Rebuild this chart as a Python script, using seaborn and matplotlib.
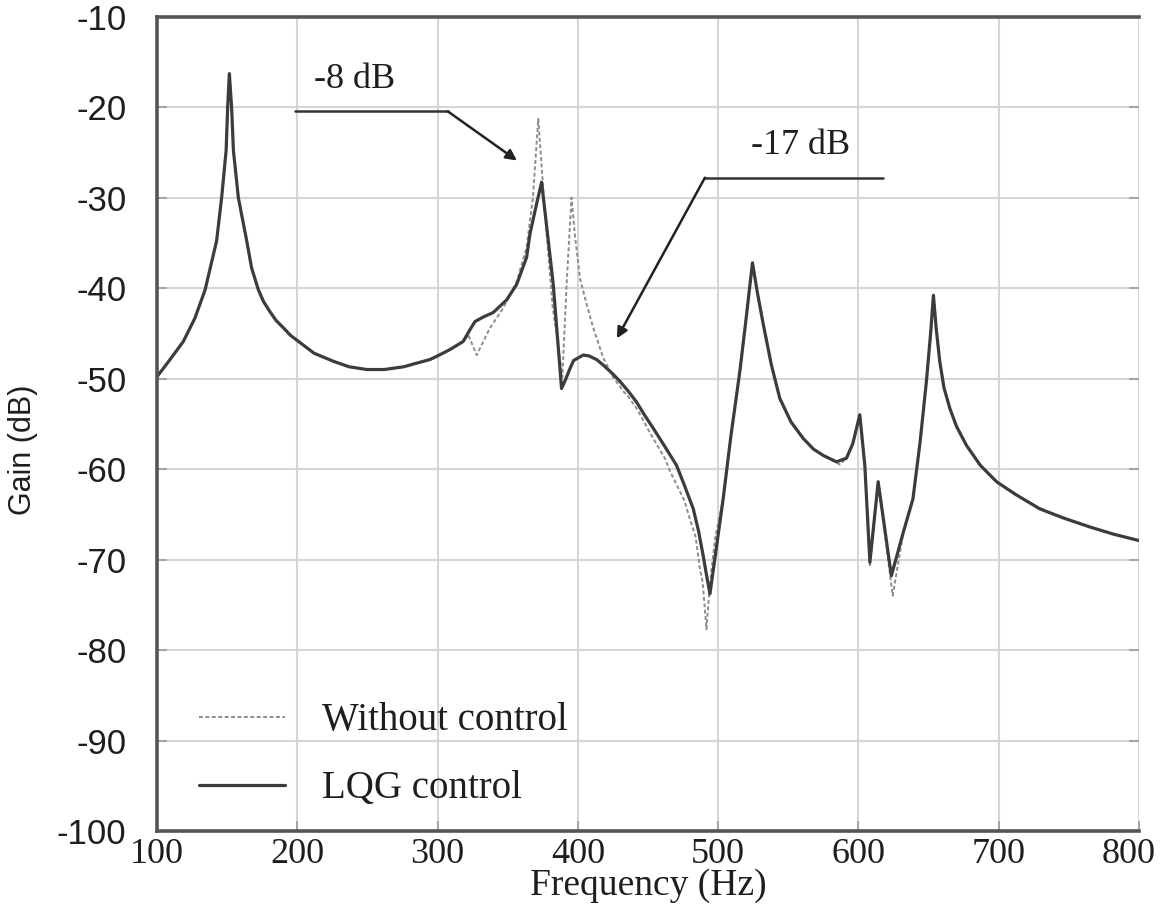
import matplotlib
matplotlib.use("Agg")
import matplotlib.pyplot as plt
import matplotlib.transforms as mtransforms
import seaborn as sns
import pandas as pd

# ---- data ----
freq_lqg = [100, 109.3, 118.8, 127.1, 134.3, 142.5, 146.1, 149.3, 150.4, 151.6, 153.2, 154.5,
            158, 164, 167.5, 172.3, 176, 180.5, 185, 190.2, 195, 200.9, 212, 225.9, 237,
            249.6, 262, 275.8, 285, 294.6, 300, 308.8, 318.3, 323.1, 326.7, 332.6,
            339.7, 349.3, 356.4, 363.5, 365.9, 370.6, 374.2, 382.5, 388.4, 391, 394.4, 397,
            403.9, 408, 413.4, 418.1, 425, 430, 436, 441.9, 447, 453.8, 462, 470.4, 476,
            482.3, 486, 489.4, 491.5, 494.2, 503.6, 509, 515.5, 519.5, 524.5, 528, 532.2,
            538, 544, 552, 560.6, 568, 575, 584.4, 591.5, 596, 601, 604.6, 608.2, 614.1,
            623.5, 632, 638.9, 644, 648.5, 651.5, 653.5, 655.5, 658, 661, 665.2, 670,
            677.1, 687, 698.5, 712, 729.4, 746, 765, 782, 800]
gain_lqg = [-49.8, -47.9, -45.9, -43.3, -40.2, -34.8, -30.0, -24.8, -20.0, -16.3, -20.0, -24.8,
            -30.0, -34.8, -37.8, -40.2, -41.5, -42.6, -43.6, -44.4, -45.2, -45.9, -47.2, -48.1, -48.7,
            -49.0, -49.0, -48.7, -48.3, -47.9, -47.5, -46.8, -45.9, -44.6, -43.7, -43.2,
            -42.7, -41.3, -39.6, -36.6, -34.0, -30.7, -28.3, -39.6, -51.1, -50.2, -48.9, -48.0,
            -47.4, -47.5, -47.9, -48.5, -49.5, -50.3, -51.4, -52.6, -53.9, -55.5, -57.5, -59.6, -61.8,
            -64.4, -66.8, -69.6, -71.5, -73.8, -63.3, -56.5, -49.2, -44.0, -37.2, -40.5, -44.0,
            -48.5, -52.2, -54.8, -56.6, -57.8, -58.5, -59.2, -58.8, -57.2, -54.0, -59.6, -70.3, -61.4,
            -71.8, -67.0, -63.3, -57.0, -50.3, -45.0, -40.8, -44.5, -48.1, -51.0, -53.3, -55.3,
            -57.4, -59.6, -61.4, -62.8, -64.4, -65.4, -66.4, -67.2, -67.9]

freq_nc = [100, 109.3, 118.8, 127.1, 134.3, 142.5, 146.1, 149.3, 150.4, 151.6, 153.2, 154.5,
           158, 164, 167.5, 172.3, 176, 180.5, 185, 190.2, 195, 200.9, 212, 225.9, 237,
           249.6, 262, 275.8, 285, 294.6, 300, 308.8, 318.3, 322.0, 327.9, 337.4,
           346.9, 356.4, 363.5, 368.0, 371.8, 376.0, 382.0, 389.0, 392.0, 395.5, 397.9,
           401.5, 406.3, 411.0, 418.1, 425, 432.4, 436, 441.9, 447, 451.4, 462, 465.6, 476,
           480.0, 484, 487.0, 489, 491.7, 494, 498, 503.6, 509, 515.5, 519.5, 524.5, 528, 532.2,
           538, 544, 552, 560.6, 568, 575, 586.8, 591.5, 596, 601, 604.6, 608.2, 614.1,
           624.5, 632, 638.9, 644, 648.5, 651.5, 653.5, 655.5, 658, 661, 665.2, 670,
           677.1, 687, 698.5, 712, 729.4, 746, 765, 782, 800]
gain_nc = [-49.8, -47.9, -45.9, -43.3, -40.2, -34.8, -30.0, -24.8, -20.0, -16.3, -20.0, -24.8,
           -30.0, -34.8, -37.8, -40.2, -41.5, -42.6, -43.6, -44.4, -45.2, -45.9, -47.2, -48.1, -48.7,
           -49.0, -49.0, -48.7, -48.3, -47.9, -47.5, -46.8, -45.9, -45.2, -47.4, -44.4,
           -42.2, -39.3, -35.5, -30.0, -21.3, -30.5, -42.0, -49.8, -39.6, -30.0, -34.1,
           -38.9, -41.8, -44.4, -47.7, -49.8, -51.4, -52.0, -53.3, -54.7, -56.0, -58.8, -60.2, -63.5,
           -65.6, -67.5, -71.0, -72.5, -77.7, -73.0, -67.5, -63.3, -56.5, -49.2, -44.0, -37.2, -40.5, -44.0,
           -48.5, -52.2, -54.8, -56.6, -57.8, -58.5, -59.5, -58.8, -57.2, -54.0, -59.6, -70.8, -61.4,
           -74.0, -67.0, -63.3, -57.0, -50.3, -45.0, -40.8, -44.5, -48.1, -51.0, -53.3, -55.3,
           -57.4, -59.6, -61.4, -62.8, -64.4, -65.4, -66.4, -67.2, -67.9]

label_nc = "Without control"
label_lqg = "LQG control"
x_ticks = [100, 200, 300, 400, 500, 600, 700, 800]
y_ticks = [-10, -20, -30, -40, -50, -60, -70, -80, -90, -100]
x_label = "Frequency (Hz)"
y_label = "Gain (dB)"
ann_8 = "-8 dB"
ann_17 = "-17 dB"

df_nc = pd.DataFrame({"f": freq_nc, "g": gain_nc})
df_lqg = pd.DataFrame({"f": freq_lqg, "g": gain_lqg})

sns.set_theme(style="whitegrid")
plt.rcParams["font.family"] = ["Liberation Serif", "DejaVu Serif"]

fig = plt.figure(figsize=(11.61, 9.08), dpi=100)
ax = fig.add_axes([0.1352, 0.0848, 0.8458, 0.8969])
ax.set_facecolor("white")

sns.lineplot(data=df_nc, x="f", y="g", ax=ax, color="#8c8c8c", linewidth=1.4,
             linestyle=(0, (2.0, 1.3)), label=label_nc, errorbar=None)
sns.lineplot(data=df_lqg, x="f", y="g", ax=ax, color="#3c3c3c", linewidth=2.3,
             label=label_lqg, errorbar=None)

ax.set_xlim(100, 800)
ax.set_ylim(-100, -10)
ax.set_xticks(x_ticks)
ax.set_yticks(y_ticks)
ax.set_xticklabels([str(v) for v in x_ticks], fontsize=26, family="Liberation Serif",
                   color="#1e1e1e")
ax.set_yticklabels([str(v) for v in y_ticks], fontsize=25, family="Liberation Sans",
                   color="#1e1e1e")

ax.grid(True, color="#d6d6d6", linewidth=1.5)
ax.tick_params(axis="both", direction="in", length=7, width=1.2,
               left=True, right=True, bottom=True, top=False)
ax.tick_params(axis="x", pad=5, color="#999999")
ax.tick_params(axis="y", pad=22, color="#999999")

# keep the last x tick label inside the figure
last = ax.get_xticklabels()[-1]
last.set_transform(last.get_transform() +
                   mtransforms.ScaledTranslation(-10 / 100, 0, fig.dpi_scale_trans))

for side in ["left", "bottom", "top"]:
    ax.spines[side].set_visible(True)
    ax.spines[side].set_color("#555555")
    ax.spines[side].set_linewidth(2.6)
ax.spines["right"].set_visible(False)

ax.set_xlabel(x_label, fontsize=27, family="Liberation Serif", color="#1e1e1e")
ax.set_ylabel(y_label, fontsize=22, family="Liberation Sans", color="#1e1e1e")
ax.xaxis.set_label_coords(0.5, -0.046)
ax.yaxis.set_label_coords(-0.121, 0.468)

# annotations
ax.plot([198.4, 307.4], [-20.48, -20.48], color="#333333", linewidth=1.8)
ax.annotate("", xy=(356.6, -25.9), xytext=(307.4, -20.48),
            arrowprops=dict(arrowstyle="-|>", color="#222222", lw=1.8,
                            mutation_scale=16, shrinkA=0, shrinkB=0))
ax.text(241.1, -17.0, ann_8, fontsize=26, family="Liberation Serif",
        ha="center", va="center", color="#1e1e1e")

ax.plot([617.5, 490.6], [-27.8, -27.8], color="#333333", linewidth=1.8)
ax.annotate("", xy=(427.9, -45.56), xytext=(490.6, -27.8),
            arrowprops=dict(arrowstyle="-|>", color="#222222", lw=1.8,
                            mutation_scale=16, shrinkA=0, shrinkB=0))
ax.text(559.0, -24.25, ann_17, fontsize=26, family="Liberation Serif",
        ha="center", va="center", color="#1e1e1e")

leg = ax.legend(loc="upper left", bbox_to_anchor=(0.043, 0.158), frameon=False,
                borderpad=0, borderaxespad=0, handlelength=2.2, handletextpad=0.95,
                labelspacing=0.8, prop={"family": "Liberation Serif", "size": 28})
for t in leg.get_texts():
    t.set_color("#1e1e1e")

fig.savefig("out.png", dpi=100, facecolor="white")
